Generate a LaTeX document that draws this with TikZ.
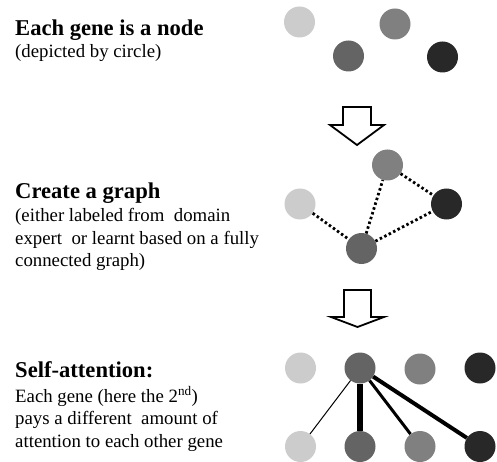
\documentclass[tikz,border=0pt]{standalone}
\usepackage{fontspec}
\setmainfont{Liberation Serif}
\definecolor{gLight}{HTML}{CCCCCC}
\definecolor{gMid}{HTML}{808080}
\definecolor{gDark}{HTML}{646464}
\definecolor{gBlack}{HTML}{282828}
\begin{document}
\begin{tikzpicture}[x=1pt,y=-1pt,
  gene/.style={circle,minimum size=31pt,inner sep=0pt,draw=none},
  title/.style={anchor=base west,inner sep=0pt,font=\fontsize{22.6}{26}\selectfont\bfseries},
  sub/.style={anchor=base west,inner sep=0pt,font=\fontsize{18.8}{22}\selectfont},
  dotline/.style={line width=2.8pt,dash pattern=on 2.5pt off 2.5pt},
  blockarrow/.style={draw=black,line width=1.8pt,fill=white,line join=miter}]
\useasboundingbox (0,0) rectangle (497,462);
% texts
\node[title] (t1) at (15,36) {Each gene is a node};
\node[sub] (s1) at (15,58) {(depicted by circle)};
\node[title] (t2) at (15,198) {Create a graph};
\node[sub] (s2a) at (15,222) {(either labeled from\ \ domain};
\node[sub] (s2b) at (15,244) {expert\ \ or learnt based on a fully};
\node[sub] (s2c) at (15,266) {connected graph)};
\node[title] (t3) at (15,377) {Self-attention:};
\node[sub] (s3a) at (15,402) {Each gene (here the 2\textsuperscript{nd})};
\node[sub] (s3b) at (15,424) {pays a different\ \ amount of};
\node[sub] (s3c) at (15,447) {attention to each other gene};
% stage 1
\node[gene,fill=gLight] (a1) at (299.5,22) {};
\node[gene,fill=gMid] (a2) at (395,24) {};
\node[gene,fill=gDark] (a3) at (348.5,56) {};
\node[gene,fill=gBlack] (a4) at (442.5,57) {};
% arrow 1
\draw[blockarrow] (343,107) -- (371,107) -- (371,125) -- (384,125) -- (357,145) -- (330,125) -- (343,125) -- cycle;
% stage 2
\node[gene,fill=gMid] (b2) at (387.5,165) {};
\node[gene,fill=gLight] (b1) at (300,204) {};
\node[gene,fill=gBlack] (b4) at (446.5,204) {};
\node[gene,fill=gDark] (b3) at (361.5,248.5) {};
\draw[dotline] (b1) -- (b3);
\draw[dotline] (b3) -- (b2);
\draw[dotline] (b2) -- (b4);
\draw[dotline] (b3) -- (b4);
% arrow 2
\draw[blockarrow] (344,290) -- (371,290) -- (371,317) -- (384,317) -- (357.5,327) -- (331,317) -- (344,317) -- cycle;
% stage 3
\node[gene,fill=gLight] (c1) at (300.5,368) {};
\node[gene,fill=gDark] (c2) at (360,368) {};
\node[gene,fill=gMid] (c3) at (420,369) {};
\node[gene,fill=gBlack] (c4) at (480,368) {};
\node[gene,fill=gLight] (d1) at (300.5,446.5) {};
\node[gene,fill=gDark] (d2) at (360,446.5) {};
\node[gene,fill=gMid] (d3) at (420,446.5) {};
\node[gene,fill=gBlack] (d4) at (480,446.5) {};
\draw[line width=1pt] (c2) -- (d1);
\draw[line width=5.5pt] (c2) -- (d2);
\draw[line width=3pt] (c2) -- (d3);
\draw[line width=4pt] (c2) -- (d4);
\end{tikzpicture}
\end{document}
